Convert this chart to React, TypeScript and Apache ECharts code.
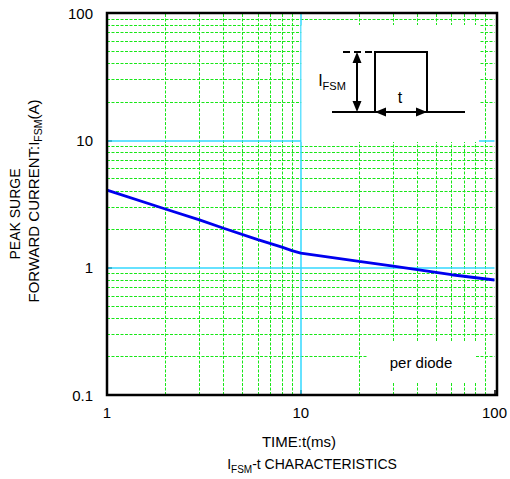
import React, { useEffect, useRef } from "react";
import * as echarts from "echarts";

const timeMs = [1, 2, 3, 4, 6, 8, 9, 10, 20, 30, 60, 100];
const surgeCurrent = [4.07, 2.89, 2.37, 2.04, 1.66, 1.45, 1.36, 1.3, 1.12, 1.03, 0.88, 0.8];
const xMinorGrid = [2, 3, 4, 5, 6, 7, 8, 9, 20, 30, 40, 50, 60, 70, 80, 90];
const yMinorGrid = [0.2, 0.3, 0.4, 0.5, 0.6, 0.7, 0.8, 0.9, 2, 3, 4, 5, 6, 7, 8, 9, 20, 30, 40, 50, 60, 70, 80, 90];
const xMajorGrid = [10];
const yMajorGrid = [1, 10];
const xRange = [1, 100];
const yRange = [0.1, 100];

const FONT = "'Liberation Sans', Arial, Helvetica, sans-serif";

export default function App() {
  const ref = useRef<HTMLDivElement>(null);
  useEffect(() => {
    document.body.style.margin = "0";
    if (!ref.current) return;
    const chart = echarts.init(ref.current, undefined, { renderer: "svg" });
    const greenDash = { color: "#19e619", width: 1, type: [3, 1.5] as any };
    const minorData: any[] = [
      ...xMinorGrid.map((v) => ({ xAxis: v })),
      ...yMinorGrid.map((v) => ({ yAxis: v })),
    ];
    const majorData: any[] = [
      ...xMajorGrid.map((v) => ({ xAxis: v })),
      ...yMajorGrid.map((v) => ({ yAxis: v })),
    ];
    const sub = (big: number, small: number) => ({
      a: { fontSize: big, fontFamily: FONT, color: "#000", lineHeight: big + 6, verticalAlign: "middle" },
      s: { fontSize: small, fontFamily: FONT, color: "#000", lineHeight: small + 2, verticalAlign: "bottom" },
    });
    const black = { stroke: "#000", lineWidth: 2 };
    chart.setOption({
      animation: false,
      grid: { left: 107, top: 13, width: 390, height: 382, show: false },
      xAxis: {
        type: "log",
        logBase: 10,
        min: xRange[0],
        max: xRange[1],
        axisLine: { show: false },
        axisTick: { show: true, inside: true, length: 5, lineStyle: { color: "#000", width: 1.5 } },
        axisLabel: { color: "#000", fontSize: 15, fontFamily: FONT, margin: 10 },
        splitLine: { show: false },
      },
      yAxis: {
        type: "log",
        logBase: 10,
        min: yRange[0],
        max: yRange[1],
        axisLine: { show: false },
        axisTick: { show: true, inside: true, length: 5, lineStyle: { color: "#000", width: 1.5 } },
        axisLabel: { color: "#000", fontSize: 15, fontFamily: FONT, margin: 14 },
        splitLine: { show: false },
      },
      series: [
        {
          type: "line",
          data: [],
          silent: true,
          z: 1,
          markLine: {
            silent: true,
            symbol: ["none", "none"],
            label: { show: false },
            lineStyle: greenDash,
            emphasis: { disabled: true },
            data: minorData,
          },
        },
        {
          type: "line",
          data: [],
          silent: true,
          z: 2,
          markLine: {
            silent: true,
            symbol: ["none", "none"],
            label: { show: false },
            lineStyle: { color: "#33d9ff", width: 1.5, type: "solid" },
            emphasis: { disabled: true },
            data: majorData,
          },
        },
        {
          type: "line",
          data: timeMs.map((t, i) => [t, surgeCurrent[i]]),
          showSymbol: false,
          symbol: "none",
          z: 5,
          lineStyle: { color: "#0000ee", width: 2.8 },
        },
      ],
      graphic: [
        { type: "rect", z: 50, shape: { x: 301.5, y: 25, width: 177.5, height: 117 }, style: { fill: "#fff" } },
        { type: "rect", z: 50, shape: { x: 368, y: 342, width: 108, height: 40 }, style: { fill: "#fff" } },
        { type: "rect", z: 70, shape: { x: 107, y: 13, width: 390, height: 382 }, style: { fill: "none", stroke: "#000", lineWidth: 2.5 } },
        { type: "text", z: 60, x: 421, y: 362, style: { text: "per diode", fontSize: 15, fontFamily: FONT, fill: "#000", textAlign: "center", textVerticalAlign: "middle" } },
        // inset pulse diagram
        { type: "line", z: 60, shape: { x1: 332, y1: 112, x2: 465, y2: 112 }, style: black },
        { type: "polyline", z: 60, shape: { points: [[375, 112], [375, 52], [427, 52], [427, 112]] }, style: { ...black, fill: "none" } },
        { type: "line", z: 60, shape: { x1: 343, y1: 52, x2: 375, y2: 52 }, style: { ...black, lineDash: [7, 4] } },
        { type: "line", z: 60, shape: { x1: 357, y1: 58, x2: 357, y2: 106 }, style: black },
        { type: "polygon", z: 60, shape: { points: [[357, 52], [352.5, 63], [361.5, 63]] }, style: { fill: "#000" } },
        { type: "polygon", z: 60, shape: { points: [[357, 112], [352.5, 101], [361.5, 101]] }, style: { fill: "#000" } },
        { type: "polygon", z: 60, shape: { points: [[375, 112], [386, 107.5], [386, 116.5]] }, style: { fill: "#000" } },
        { type: "polygon", z: 60, shape: { points: [[427, 112], [416, 107.5], [416, 116.5]] }, style: { fill: "#000" } },
        {
          type: "text", z: 60, x: 332, y: 80,
          style: { text: "{a|I}{s|FSM}", rich: sub(16, 11), textAlign: "center", textVerticalAlign: "middle" },
        },
        { type: "text", z: 60, x: 400, y: 97, style: { text: "t", fontSize: 16, fontFamily: FONT, fill: "#000", textAlign: "center", textVerticalAlign: "middle" } },
        // axis titles
        { type: "text", z: 60, x: 15, y: 214, rotation: Math.PI / 2, style: { text: "PEAK SURGE", fontSize: 14, fontFamily: FONT, fill: "#000", textAlign: "center", textVerticalAlign: "middle" } },
        {
          type: "text", z: 60, x: 33, y: 201, rotation: Math.PI / 2,
          style: { text: "{a|FORWARD CURRENT:I}{s|FSM}{a|(A)}", rich: sub(15, 10.5), textAlign: "center", textVerticalAlign: "middle" },
        },
        { type: "text", z: 60, x: 299, y: 441, style: { text: "TIME:t(ms)", fontSize: 15, fontFamily: FONT, fill: "#000", textAlign: "center", textVerticalAlign: "middle" } },
        {
          type: "text", z: 60, x: 312, y: 464,
          style: { text: "{a|I}{s|FSM}{a|-t CHARACTERISTICS}", rich: sub(14, 10), textAlign: "center", textVerticalAlign: "middle" },
        },
      ],
    });
    return () => chart.dispose();
  }, []);
  return <div ref={ref} style={{ width: 510, height: 479 }} />;
}
